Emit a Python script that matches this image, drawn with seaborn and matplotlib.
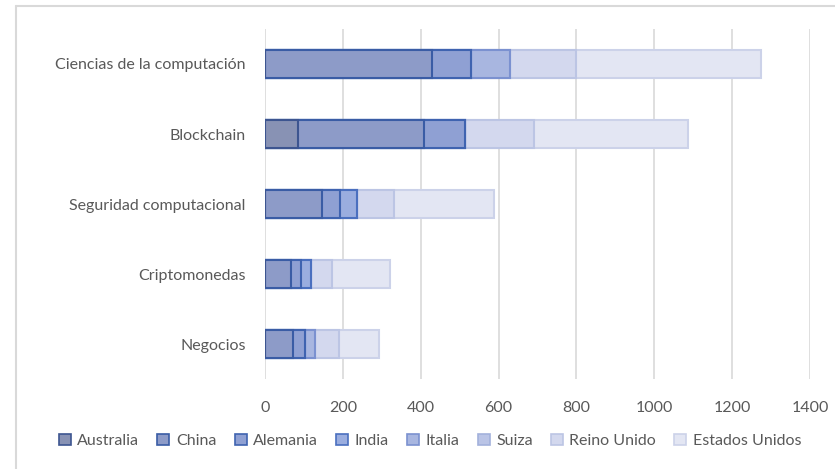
import matplotlib
matplotlib.use("Agg")
import matplotlib.pyplot as plt
from matplotlib.patches import Patch
from matplotlib.lines import Line2D
import numpy as np
import pandas as pd
import seaborn as sns

categorias = ["Ciencias de la computación", "Blockchain", "Seguridad computacional",
              "Criptomonedas", "Negocios"]
paises = ["Australia", "China", "Alemania", "India", "Italia", "Suiza",
          "Reino Unido", "Estados Unidos"]

australia = [0, 84, 0, 0, 0]
china = [430, 325, 146, 66, 71]
alemania = [100, 106, 47, 26, 32]
india = [0, 0, 43, 27, 0]
italia = [100, 0, 0, 0, 25]
suiza = [0, 0, 0, 0, 0]
reino_unido = [168, 176, 95, 54, 62]
estados_unidos = [475, 396, 258, 147, 102]

series = [australia, china, alemania, india, italia, suiza, reino_unido, estados_unidos]

rellenos = ["#8892b4", "#8d9bc8", "#8fa0d3", "#9aaddf", "#a8b6e0", "#bac4e6",
            "#d3d8ee", "#e3e6f3"]
bordes = ["#3d5590", "#3a5ca5", "#3f63b0", "#4a6fbf", "#7b91d0", "#a3b1dc",
          "#bcc5e4", "#ccd2e9"]

sns.set_theme(style="white")
plt.rcParams["font.family"] = ["Lato", "DejaVu Sans"]

fig = plt.figure(figsize=(8.35, 4.69), dpi=100)
ax = fig.add_axes([265 / 835, 1 - 379 / 469, 545 / 835, 350 / 469])

df = pd.DataFrame(dict(zip(paises, series)), index=categorias)
acumulado = df.cumsum(axis=1)

# stacked bars: draw cumulative totals from the outermost series inward
for i in range(len(paises) - 1, -1, -1):
    pais = paises[i]
    datos = pd.DataFrame({"categoria": categorias, "valor": acumulado[pais].values})
    sns.barplot(data=datos, x="valor", y="categoria", orient="h", ax=ax,
                color=rellenos[i], edgecolor=bordes[i], linewidth=1.5,
                width=0.4, saturation=1)

ax.set_xlim(0, 1400)
ax.set_ylim(4.5, -0.5)
ax.set_xticks(np.arange(0, 1401, 200))
ax.xaxis.grid(True, color="#d9d9d9", linewidth=1.2)
ax.set_axisbelow(True)
for s in ax.spines.values():
    s.set_visible(False)
ax.set_xlabel("")
ax.set_ylabel("")
ax.tick_params(axis="both", length=0, labelsize=11.5, colors="#595959")
ax.tick_params(axis="x", pad=16)
ax.tick_params(axis="y", pad=14)

handles = [Patch(facecolor=rellenos[i], edgecolor=bordes[i], linewidth=1.2, label=p)
           for i, p in enumerate(paises)]
leg = fig.legend(handles=handles, loc="center", bbox_to_anchor=(0.515, 1 - 441 / 469),
                 ncol=8, frameon=False, fontsize=11.5, handlelength=0.75,
                 handleheight=0.75, handletextpad=0.4, columnspacing=1.15,
                 borderaxespad=0)
for t in leg.get_texts():
    t.set_color("#595959")

# outer frame lines (top and left)
fig.add_artist(Line2D([16 / 835, 1], [1 - 6 / 469, 1 - 6 / 469], transform=fig.transFigure,
                      color="#d9d9d9", linewidth=1.5))
fig.add_artist(Line2D([16 / 835, 16 / 835], [0, 1 - 6 / 469], transform=fig.transFigure,
                      color="#d9d9d9", linewidth=1.5))

fig.savefig("out.png", dpi=100, facecolor="white")
